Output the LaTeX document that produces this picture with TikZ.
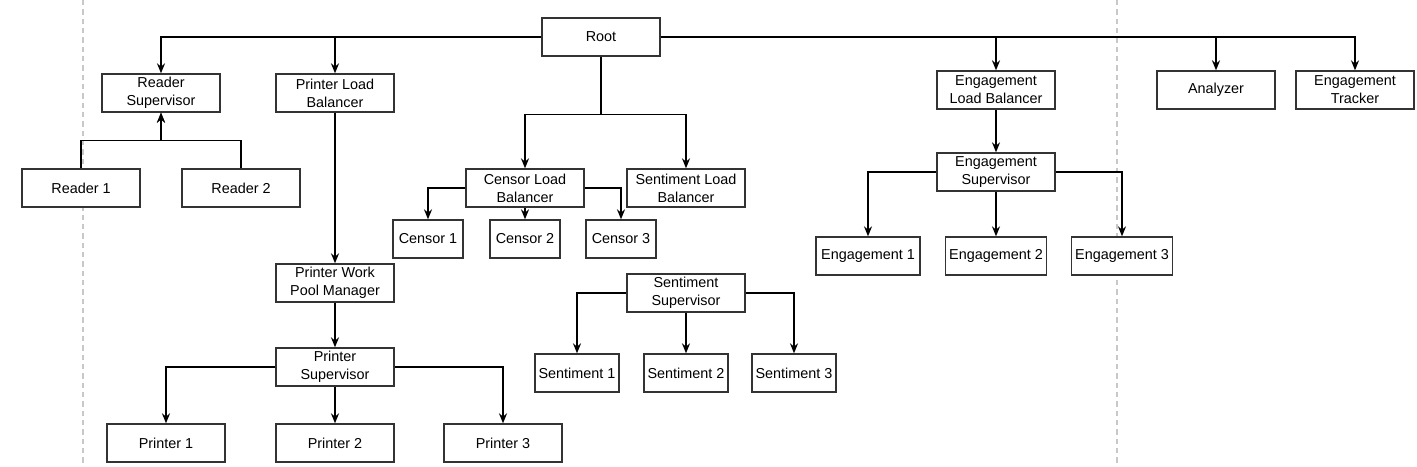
\documentclass[tikz,border=0pt]{standalone}
\usepackage{fontspec}
\setmainfont{Liberation Sans}
\usetikzlibrary{arrows.meta,positioning}
\definecolor{boxline}{HTML}{333333}
\definecolor{guide}{HTML}{C8C8C8}

\begin{document}
\begin{tikzpicture}[x=0.75pt, y=-0.75pt,
    >={Stealth[length=7.5pt,width=6pt]},
    actor/.style={draw=boxline, line width=1pt, fill=white, align=center,
                  minimum width=88.5pt, minimum height=28.5pt, inner sep=1pt,
                  font=\fontsize{10.8}{13.5}\selectfont},
    link/.style={->, line width=1pt, black},
    buslink/.style={->, line width=1.6pt, black}
  ]
  \useasboundingbox (0,0) rectangle (1417,467);

  %--- Guide lines
  \draw[guide, line width=1pt, dash pattern=on 4pt off 3pt] (83,0) -- (83,467);
  \draw[guide, line width=1pt, dash pattern=on 4pt off 3pt] (1117,0) -- (1117,467);

  %--- Root and first level
  \node[actor] (root) at (601,37) {Root};
  \node[actor] (rsup) at (161,93) {Reader\\Supervisor};
  \node[actor] (plb)  at (335,93) {Printer Load\\Balancer};
  \node[actor] (elb)  at (996,90) {Engagement\\Load Balancer};
  \node[actor] (ana)  at (1216,90) {Analyzer};
  \node[actor] (etr)  at (1355,90) {Engagement\\Tracker};
  \node[actor] (clb)  at (525,188) {Censor Load\\Balancer};
  \node[actor] (slb)  at (686,188) {Sentiment Load\\Balancer};

  %--- Readers
  \node[actor] (r1) at (81,188) {Reader 1};
  \node[actor] (r2) at (241,188) {Reader 2};

  %--- Printers
  \node[actor] (pwpm) at (335,283) {Printer Work\\Pool Manager};
  \node[actor] (psup) at (335,367) {Printer\\Supervisor};
  \node[actor] (p1) at (166,443) {Printer 1};
  \node[actor] (p2) at (335,443) {Printer 2};
  \node[actor] (p3) at (503,443) {Printer 3};

  %--- Censors
  \node[actor, minimum width=52.5pt] (c1) at (428,239) {Censor 1};
  \node[actor, minimum width=52.5pt] (c2) at (525,239) {Censor 2};
  \node[actor, minimum width=52.5pt] (c3) at (621,239) {Censor 3};

  %--- Sentiments
  \node[actor] (ssup) at (686,293) {Sentiment\\Supervisor};
  \node[actor, minimum width=63pt] (s1) at (577,373) {Sentiment 1};
  \node[actor, minimum width=63pt] (s2) at (686,373) {Sentiment 2};
  \node[actor, minimum width=63pt] (s3) at (794,373) {Sentiment 3};

  %--- Engagements
  \node[actor] (esup) at (996,172) {Engagement\\Supervisor};
  \node[actor, minimum width=78pt] (e1) at (868,256) {Engagement 1};
  \node[actor, minimum width=76pt] (e2) at (996,256) {Engagement 2};
  \node[actor, minimum width=76pt] (e3) at (1122,256) {Engagement 3};

  %--- Connections from Root
  \draw[link] (root.west) -| (rsup.north);
  \draw[buslink] (root.west) -| (plb.north);
  \draw[buslink] (root.east) -| (elb.north);
  \draw[buslink] (root.east) -| (ana.north);
  \draw[link] (root.east) -| (etr.north);
  \draw[link] (root.south) -- ++(0,58) -| (clb.north);
  \draw[link] (root.south) -- ++(0,58) -| (slb.north);

  %--- Reader branch
  \draw[link] (r1.north) -- ++(0,-28) -| (rsup.south);
  \draw[link] (r2.north) -- ++(0,-28) -| (rsup.south);

  %--- Printer branch
  \draw[link] (plb) -- (pwpm);
  \draw[link] (pwpm) -- (psup);
  \draw[link] (psup.west) -| (p1.north);
  \draw[link] (psup) -- (p2);
  \draw[link] (psup.east) -| (p3.north);

  %--- Censor branch
  \draw[link] (clb.west) -| (c1.north);
  \draw[link] (clb) -- (c2);
  \draw[link] (clb.east) -| (c3.north);

  %--- Sentiment branch
  \draw[link] (ssup.west) -| (s1.north);
  \draw[link] (ssup) -- (s2);
  \draw[link] (ssup.east) -| (s3.north);

  %--- Engagement branch
  \draw[link] (elb) -- (esup);
  \draw[link] (esup.west) -| (e1.north);
  \draw[link] (esup) -- (e2);
  \draw[link] (esup.east) -| (e3.north);

\end{tikzpicture}
\end{document}
